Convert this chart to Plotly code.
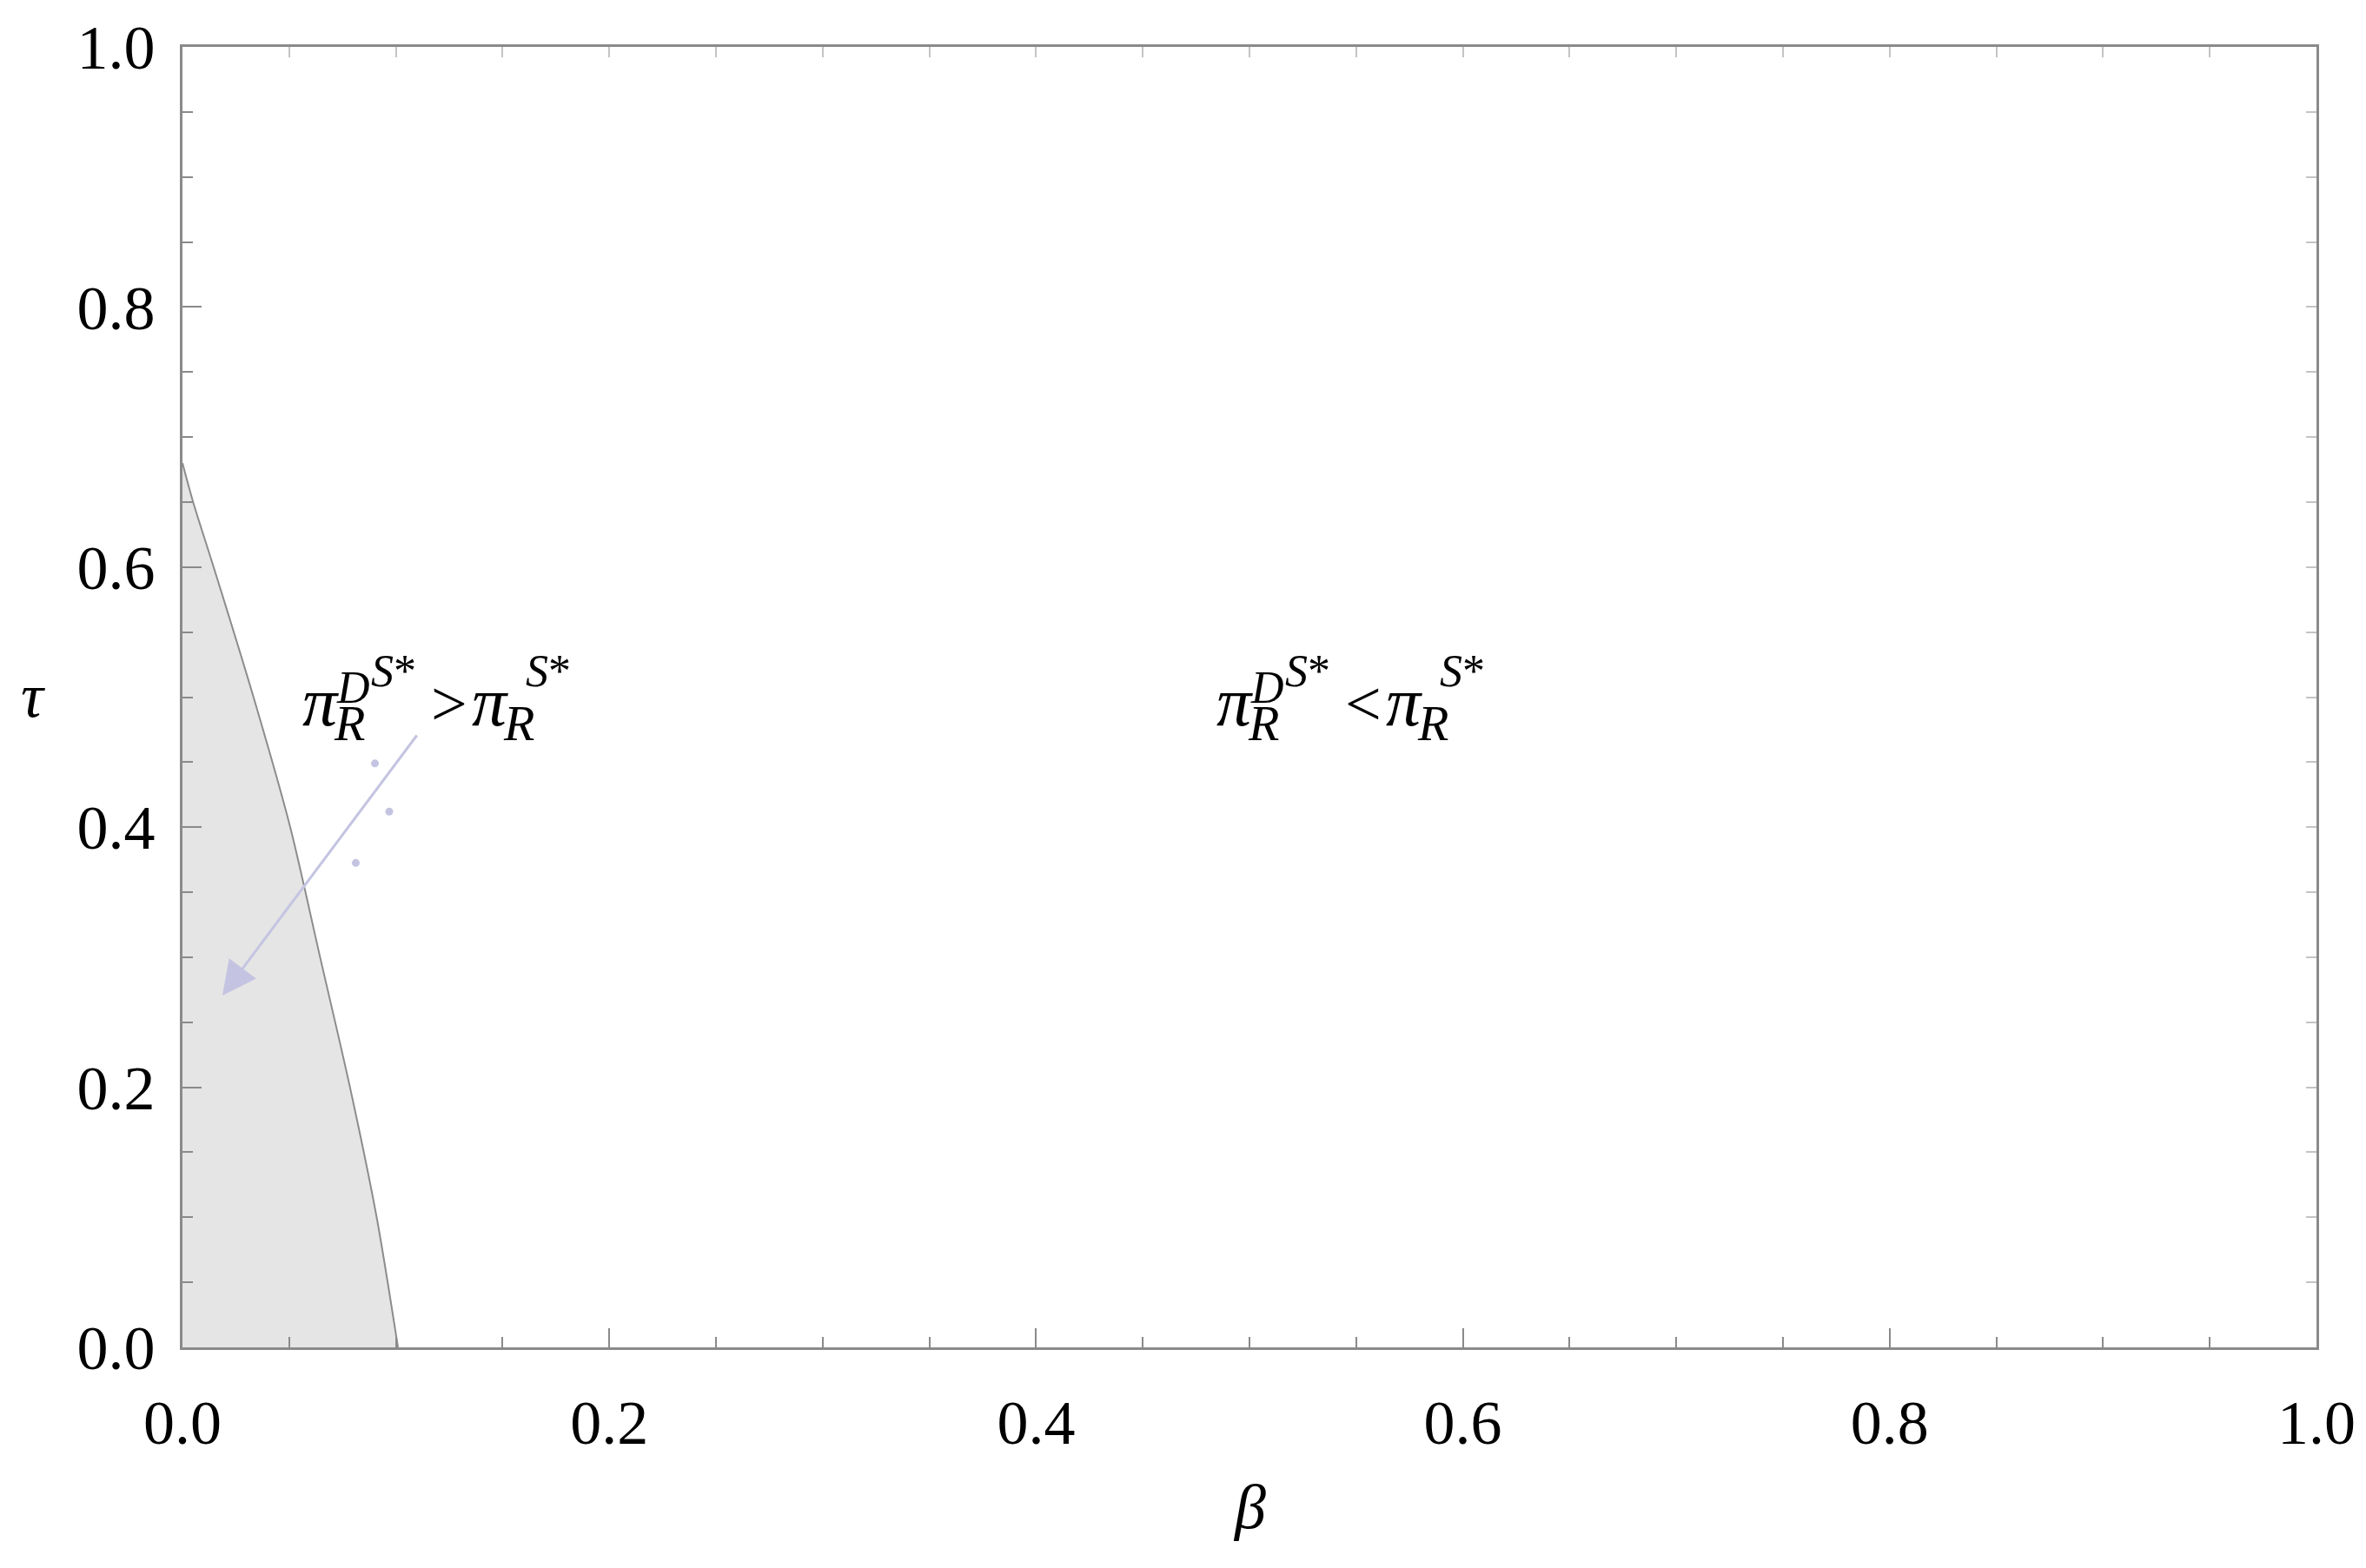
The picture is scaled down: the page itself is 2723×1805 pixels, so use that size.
import plotly.graph_objects as go

# ---- data ----
tau_boundary = [0.68, 0.65, 0.60, 0.50, 0.40, 0.30, 0.20, 0.10, 0.00]
beta_boundary = [0.0, 0.005, 0.0146, 0.0333, 0.0505, 0.0645, 0.0785, 0.091, 0.101]

dots_beta = [0.0902, 0.0969, 0.0812]
dots_tau = [0.449, 0.412, 0.3725]

arrow_start = (0.1103, 0.4716)
arrow_tip = (0.0187, 0.2705)

label_left_anchor = (0.0554, 0.4783)
label_right_anchor = (0.4837, 0.4783)

x_ticks = [0.0, 0.2, 0.4, 0.6, 0.8, 1.0]
y_ticks = [0.0, 0.2, 0.4, 0.6, 0.8, 1.0]

FONT = "Liberation Serif"
AXC = "#8a8a8a"
LAV = "rgb(196,196,226)"

fig = go.Figure()

# shaded region + boundary (filled horizontally to beta = 0)
fig.add_trace(go.Scatter(x=beta_boundary, y=tau_boundary, mode="lines",
                         fill="tozerox", fillcolor="#e5e5e5",
                         line=dict(color="#8c8c8c", width=2, shape="spline", smoothing=0.8),
                         hoverinfo="skip", showlegend=False))
# dots
fig.add_trace(go.Scatter(x=dots_beta, y=dots_tau, mode="markers",
                         marker=dict(color=LAV, size=9), showlegend=False))
# invisible trace for mirror axes
fig.add_trace(go.Scatter(x=[0], y=[0], xaxis="x2", yaxis="y2", mode="markers",
                         marker=dict(opacity=0), showlegend=False, hoverinfo="skip"))

fig.add_annotation(x=arrow_tip[0], y=arrow_tip[1], ax=arrow_start[0], ay=arrow_start[1],
                   xref="x", yref="y", axref="x", ayref="y", text="", showarrow=True,
                   arrowhead=2, arrowsize=2.6, arrowwidth=3, arrowcolor=LAV)

# formula glyphs: (text, dx, baseline_dy, size)
def formula(op):
    return [
        ("<i>π</i>", 0, 0, 80),
        ("<i>R</i>", 36, 17, 58),
        ("<i>D</i>", 39, -26, 52),
        ("<i>S</i>*", 79, -45, 52),
        (op, 148, 0, 74),
        ("<i>π</i>", 195, 0, 80),
        ("<i>R</i>", 231, 17, 58),
        ("<i>S</i>*", 257, -45, 52),
    ]

for anchor, op in [(label_left_anchor, "&gt;"), (label_right_anchor, "&lt;")]:
    for txt, dx, bdy, s in formula(op):
        fig.add_annotation(x=anchor[0], y=anchor[1], xref="x", yref="y", text=txt,
                           showarrow=False, xanchor="left", yanchor="middle",
                           xshift=dx, yshift=-bdy + 0.3375 * s,
                           font=dict(family=FONT, size=s, color="black"))

# axis titles
fig.add_annotation(x=0.5, y=-0.123, xref="paper", yref="paper", text="<i>β</i>",
                   showarrow=False, xanchor="center", yanchor="middle",
                   font=dict(family=FONT, size=72, color="black"))
fig.add_annotation(x=-0.070, y=0.501, xref="paper", yref="paper", text="<i>τ</i>",
                   showarrow=False, xanchor="center", yanchor="middle",
                   font=dict(family=FONT, size=72, color="black"))

common = dict(range=[0, 1], showgrid=False, zeroline=False)
fig.update_layout(
    width=2723, height=1805,
    margin=dict(l=210, r=57, t=54, b=254),
    plot_bgcolor="white", paper_bgcolor="white",
    font=dict(family=FONT, size=72, color="black"),
    xaxis=dict(**common, tickvals=x_ticks, ticktext=[f"{v:.1f}" for v in x_ticks],
               ticks="inside", ticklen=22, tickwidth=2, tickcolor=AXC,
               showline=True, linecolor=AXC, linewidth=3, mirror=True,
               ticklabelstandoff=22,
               minor=dict(dtick=0.05, ticks="inside", ticklen=12, tickwidth=2, tickcolor=AXC)),
    yaxis=dict(**common, tickvals=y_ticks, ticktext=[f"{v:.1f}" for v in y_ticks],
               ticks="inside", ticklen=22, tickwidth=2, tickcolor=AXC,
               showline=True, linecolor=AXC, linewidth=3, mirror=True,
               ticklabelstandoff=14,
               minor=dict(dtick=0.05, ticks="inside", ticklen=12, tickwidth=2, tickcolor=AXC)),
    xaxis2=dict(**common, overlaying="x", side="top", anchor="y2", dtick=0.05,
                ticks="inside", ticklen=12, tickwidth=2, tickcolor="#c4c4c4",
                showticklabels=False, showline=False),
    yaxis2=dict(**common, overlaying="y", side="right", anchor="x2", dtick=0.05,
                ticks="inside", ticklen=12, tickwidth=2, tickcolor="#c4c4c4",
                showticklabels=False, showline=False),
    showlegend=False,
)

fig.write_html("out.html", config={"displayModeBar": False},
               post_script="document.body.style.margin='0';")
